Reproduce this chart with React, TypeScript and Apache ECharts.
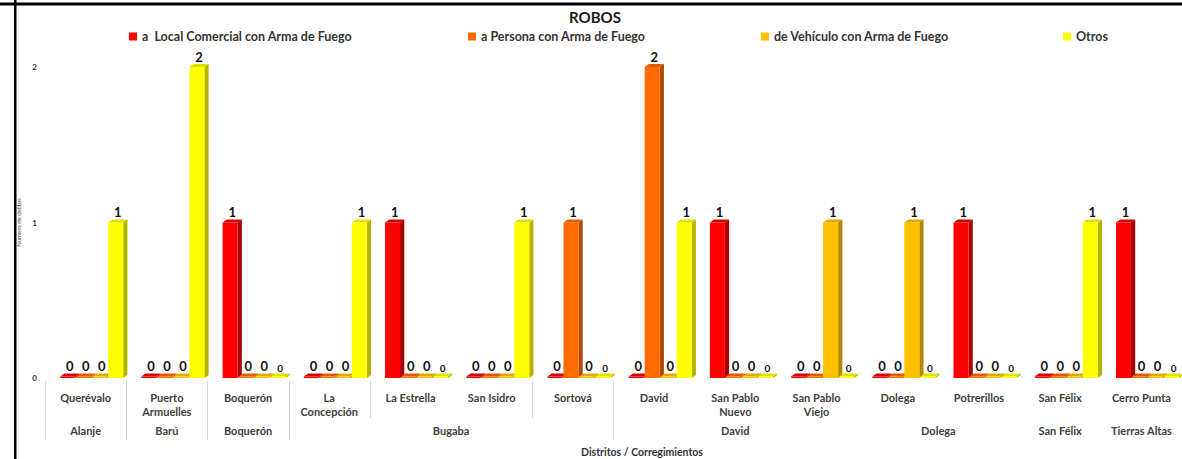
import React, { useEffect, useRef } from "react";
import * as echarts from "echarts";

const categories = [
  "Querévalo",
  "Puerto\nArmuelles",
  "Boquerón",
  "La\nConcepción",
  "La Estrella",
  "San Isidro",
  "Sortová",
  "David",
  "San Pablo\nNuevo",
  "San Pablo\nViejo",
  "Dolega",
  "Potrerillos",
  "San Félix",
  "Cerro Punta",
];
const districts = ["Alanje", "Barú", "Boquerón", "Bugaba", "David", "Dolega", "San Félix", "Tierras Altas"];
const districtSpans = [1, 1, 1, 4, 3, 2, 1, 1];

const seriesNames = [
  "a  Local Comercial con Arma de Fuego",
  "a Persona con Arma de Fuego",
  "de Vehículo con Arma de Fuego",
  "Otros",
];
const localComercial = [0, 0, 1, 0, 1, 0, 0, 0, 1, 0, 0, 1, 0, 1];
const persona = [0, 0, 0, 0, 0, 0, 1, 2, 0, 0, 0, 0, 0, 0];
const vehiculo = [0, 0, 0, 0, 0, 0, 0, 0, 0, 1, 1, 0, 0, 0];
const otros = [1, 2, 0, 1, 0, 1, 0, 1, 0, 0, 0, 0, 1, 0];
const seriesValues = [localComercial, persona, vehiculo, otros];
const yTicks = [0, 1, 2];

const frontColors = ["#FF0000", "#FF6A00", "#FFC000", "#FFFF00"];
const sideColors = ["#A80000", "#B44A00", "#B48700", "#B4B400"];
const topColors = ["#D00000", "#E05A00", "#E0A800", "#E0E000"];
const FONT = "Lato, 'Open Sans', sans-serif";

export default function App() {
  const ref = useRef<HTMLDivElement>(null);
  useEffect(() => {
    if (!ref.current) return;
    const chart = echarts.init(ref.current, undefined, { renderer: "svg" });

    const makeRender = (si: number) => (params: any, api: any) => {
      const idx = api.value(0);
      const val = api.value(1);
      const base = api.coord([idx, 0]);
      const topPt = api.coord([idx, val]);
      const band = api.size([1, 0])[0];
      const w = band * 0.185;
      const step = band * 0.197;
      const dx = w * 0.28;
      const dy = 3;
      const cx = base[0] + (si - 1.5) * step + band * 0.075;
      const x0 = cx - w / 2;
      const y0 = base[1];
      const yt = val > 0 ? topPt[1] : y0 - 1.5;
      const small = si === 3 && val === 0;
      return {
        type: "group",
        children: [
          {
            type: "polygon",
            shape: { points: [[x0 + w, yt], [x0 + w + dx, yt - dy], [x0 + w + dx, y0 - dy], [x0 + w, y0]] },
            style: { fill: sideColors[si] },
          },
          {
            type: "polygon",
            shape: { points: [[x0, yt], [x0 + dx, yt - dy], [x0 + w + dx, yt - dy], [x0 + w, yt]] },
            style: { fill: topColors[si] },
          },
          {
            type: "rect",
            shape: { x: x0, y: yt, width: w, height: y0 - yt },
            style: { fill: frontColors[si] },
          },
          {
            type: "text",
            style: {
              text: String(val),
              x: cx + dx / 2,
              y: yt - dy - 1,
              align: "center",
              verticalAlign: "bottom",
              fontSize: small ? 10 : 13,
              fontWeight: "bold",
              fontFamily: FONT,
              fill: "#111111",
            },
          },
        ],
      };
    };

    const legendLefts = [124, 463, 756, 1058];

    const option: any = {
      animation: false,
      title: {
        text: "ROBOS",
        left: 590,
        textAlign: "center",
        top: 4,
        textStyle: { fontSize: 15, fontWeight: "bold", color: "#1a1a1a", fontFamily: FONT },
      },
      legend: seriesNames.map((n, i) => ({
        data: [n],
        left: legendLefts[i],
        top: 27,
        padding: [3, 5, 1, 5],
        icon: "rect",
        itemWidth: 8,
        itemHeight: 8,
        itemGap: 5,
        textStyle: { fontSize: 12.5, fontWeight: "bold", color: "#333333", fontFamily: FONT },
      })),
      grid: { left: 45, right: 0, top: 67, bottom: 81, containLabel: false },
      xAxis: {
        type: "category",
        data: categories,
        axisLine: { show: false },
        axisTick: { show: false },
        splitLine: { show: false },
        axisLabel: {
          interval: 0,
          margin: 12,
          fontSize: 11,
          fontWeight: "bold",
          lineHeight: 14,
          color: "#404040",
          fontFamily: FONT,
        },
      },
      yAxis: {
        type: "value",
        min: yTicks[0],
        max: yTicks[yTicks.length - 1],
        interval: 1,
        name: "Número de delitos",
        nameLocation: "middle",
        nameRotate: 90,
        nameGap: 23,
        nameTextStyle: { fontSize: 6, color: "#404040", fontFamily: FONT },
        axisLine: { show: false },
        axisTick: { show: false },
        splitLine: { show: false },
        axisLabel: { margin: 8, fontSize: 8, fontWeight: "bold", color: "#333333", fontFamily: FONT },
      },
      series: seriesNames.map((n, si) => ({
        name: n,
        type: "custom",
        itemStyle: { color: frontColors[si] },
        renderItem: makeRender(si),
        encode: { x: 0, y: 1 },
        data: seriesValues[si].map((v, i) => [i, v]),
      })),
    };
    chart.setOption(option);

    const px = (i: number) => chart.convertToPixel({ xAxisIndex: 0 }, i) as number;
    const band = px(1) - px(0);
    const boundary = (k: number) => px(0) + (k - 0.5) * band;
    const graphics: any[] = [];
    let start = 0;
    districts.forEach((d, gi) => {
      const span = districtSpans[gi];
      const center = (px(start) + px(start + span - 1)) / 2;
      graphics.push({
        type: "text",
        x: center,
        y: 430,
        style: {
          text: d,
          align: "center",
          verticalAlign: "middle",
          fontSize: 11,
          fontWeight: "bold",
          fontFamily: FONT,
          fill: "#404040",
        },
      });
      start += span;
    });
    [0, 1, 2, 3, 7].forEach((k) => {
      const x = Math.round(boundary(k)) + 0.5;
      graphics.push({ type: "line", shape: { x1: x, y1: 381, x2: x, y2: 440 }, style: { stroke: "#D4D4D4", lineWidth: 1 } });
    });
    [4, 6].forEach((k) => {
      const x = Math.round(boundary(k)) + 0.5;
      graphics.push({ type: "line", shape: { x1: x, y1: 381, x2: x, y2: 418 }, style: { stroke: "#D4D4D4", lineWidth: 1 } });
    });
    graphics.push({
      type: "text",
      x: 642,
      y: 452,
      style: {
        text: "Distritos / Corregimientos",
        align: "center",
        verticalAlign: "middle",
        fontSize: 10.5,
        fontWeight: "bold",
        fontFamily: FONT,
        fill: "#333333",
      },
    });
    graphics.push({ type: "rect", shape: { x: 0, y: 2.5, width: 1182, height: 3 }, style: { fill: "#000000" } });
    graphics.push({ type: "rect", shape: { x: 14, y: 0, width: 2.5, height: 459 }, style: { fill: "#000000" } });
    chart.setOption({ graphic: graphics });

    return () => chart.dispose();
  }, []);
  return (
    <div
      ref={ref}
      style={{ position: "fixed", left: 0, top: 0, width: 1182, height: 459, background: "#ffffff" }}
    />
  );
}
